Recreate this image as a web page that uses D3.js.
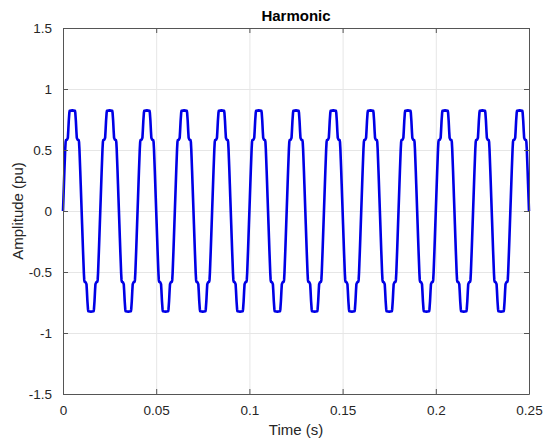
<!DOCTYPE html>
<html>
<head>
<meta charset="utf-8">
<script src="https://cdn.jsdelivr.net/npm/d3@7"></script>
<style>
  html, body { margin: 0; padding: 0; background: #fff; }
  svg { display: block; }
  text { font-family: "Liberation Sans", Arial, Helvetica, sans-serif; }
</style>
</head>
<body>
<svg id="chart" width="559" height="442"></svg>
<script>
// ---- data ----
const titleText = "Harmonic";
const xLabel = "Time (s)";
const yLabel = "Amplitude (pu)";
const xTicks = [0, 0.05, 0.1, 0.15, 0.2, 0.25];
const xTickLabels = ["0", "0.05", "0.1", "0.15", "0.2", "0.25"];
const yTicks = [-1.5, -1, -0.5, 0, 0.5, 1, 1.5];
const yTickLabels = ["-1.5", "-1", "-0.5", "0", "0.5", "1", "1.5"];
const xDomain = [0, 0.25];
const yDomain = [-1.5, 1.5];

// start times (s) of each 20 ms cycle of the waveform
const cycleStarts = [0, 0.02, 0.04, 0.06, 0.08, 0.10, 0.12, 0.14, 0.16, 0.18, 0.20, 0.22, 0.24];
// one cycle of the waveform: time within cycle (ms) and amplitude (pu)
const cycleTimeMs = [0, 0.25, 0.5, 0.75, 1.0, 1.2, 1.4, 1.6, 2.2, 2.6, 2.8, 3.1, 3.4, 3.6, 5.0,
                     6.4, 6.6, 6.9, 7.2, 7.4, 7.8, 8.4, 8.6, 8.8, 9.0, 9.25, 9.5, 9.75,
                     10, 10.25, 10.5, 10.75, 11.0, 11.2, 11.4, 11.6, 12.2, 12.6, 12.8, 13.1, 13.4, 13.6, 15.0,
                     16.4, 16.6, 16.9, 17.2, 17.4, 17.8, 18.4, 18.6, 18.8, 19.0, 19.25, 19.5, 19.75];
const cycleValue = [0, 0.11, 0.22, 0.33, 0.43, 0.51, 0.565, 0.58, 0.585, 0.60, 0.65, 0.74, 0.805, 0.822, 0.825,
                    0.822, 0.805, 0.74, 0.65, 0.60, 0.585, 0.58, 0.565, 0.51, 0.43, 0.33, 0.22, 0.11,
                    0, -0.11, -0.22, -0.33, -0.43, -0.51, -0.565, -0.58, -0.585, -0.60, -0.65, -0.74, -0.805, -0.822, -0.825,
                    -0.822, -0.805, -0.74, -0.65, -0.60, -0.585, -0.58, -0.565, -0.51, -0.43, -0.33, -0.22, -0.11];

// ---- build the series ----
const series = [];
cycleStarts.forEach(c => {
  cycleTimeMs.forEach((tm, i) => {
    const t = c + tm / 1000;
    if (t <= xDomain[1] + 1e-9) series.push({ t: t, v: cycleValue[i] });
  });
});

// ---- layout ----
const svg = d3.select("#chart");
const W = 559, H = 442;
const margin = { left: 63, right: 30, top: 28, bottom: 48 };
const plotW = W - margin.left - margin.right;
const plotH = H - margin.top - margin.bottom;

const x = d3.scaleLinear().domain(xDomain).range([margin.left, margin.left + plotW]);
const y = d3.scaleLinear().domain(yDomain).range([margin.top + plotH, margin.top]);

svg.append("rect").attr("width", W).attr("height", H).attr("fill", "#fff");

// grid
const grid = svg.append("g");
grid.selectAll("line.gx").data(xTicks.slice(1, -1)).enter().append("line")
  .attr("x1", d => x(d) + 0.5).attr("x2", d => x(d) + 0.5)
  .attr("y1", margin.top).attr("y2", margin.top + plotH)
  .attr("stroke", "#e6e6e6").attr("stroke-width", 1);
grid.selectAll("line.gy").data(yTicks.slice(1, -1)).enter().append("line")
  .attr("y1", d => Math.round(y(d)) + 0.5).attr("y2", d => Math.round(y(d)) + 0.5)
  .attr("x1", margin.left).attr("x2", margin.left + plotW)
  .attr("stroke", "#e6e6e6").attr("stroke-width", 1);

// waveform
const line = d3.line().x(d => x(d.t)).y(d => y(d.v));
svg.append("path").datum(series)
  .attr("d", line)
  .attr("fill", "none")
  .attr("stroke", "#0000e6")
  .attr("stroke-width", 2.6)
  .attr("stroke-linejoin", "round");

// axes (MATLAB style: inward ticks on all four sides)
const axisColor = "#555";
const tickLen = 5;
function styleAxis(g) {
  g.select(".domain").attr("stroke", axisColor).attr("stroke-width", 1);
  g.selectAll(".tick line").attr("stroke", axisColor);
  g.selectAll(".tick text").attr("fill", "#262626").attr("font-size", "13.5px")
    .attr("font-family", "Liberation Sans, Arial, sans-serif");
}
const fmtX = d => xTickLabels[xTicks.indexOf(d)];
const fmtY = d => yTickLabels[yTicks.indexOf(d)];

svg.append("g").attr("transform", `translate(0,${margin.top + plotH})`)
  .call(d3.axisBottom(x).tickValues(xTicks).tickFormat(fmtX).tickSizeInner(-tickLen).tickSizeOuter(0).tickPadding(11))
  .call(styleAxis);
svg.append("g").attr("transform", `translate(0,${margin.top})`)
  .call(d3.axisTop(x).tickValues(xTicks).tickFormat("").tickSizeInner(-tickLen).tickSizeOuter(0))
  .call(styleAxis);
svg.append("g").attr("transform", `translate(${margin.left},0)`)
  .call(d3.axisLeft(y).tickValues(yTicks).tickFormat(fmtY).tickSizeInner(-tickLen).tickSizeOuter(0).tickPadding(11))
  .call(styleAxis);
svg.append("g").attr("transform", `translate(${margin.left + plotW},0)`)
  .call(d3.axisRight(y).tickValues(yTicks).tickFormat("").tickSizeInner(-tickLen).tickSizeOuter(0))
  .call(styleAxis);

// labels
svg.append("text").attr("x", margin.left + plotW / 2).attr("y", 21)
  .attr("text-anchor", "middle").attr("font-size", "15px").attr("font-weight", "bold")
  .attr("fill", "#000").text(titleText);
svg.append("text").attr("x", margin.left + plotW / 2).attr("y", 435)
  .attr("text-anchor", "middle").attr("font-size", "15px")
  .attr("fill", "#262626").text(xLabel);
svg.append("text").attr("transform", `translate(23,${margin.top + plotH / 2}) rotate(-90)`)
  .attr("text-anchor", "middle").attr("font-size", "15px")
  .attr("fill", "#262626").text(yLabel);
</script>
</body>
</html>
